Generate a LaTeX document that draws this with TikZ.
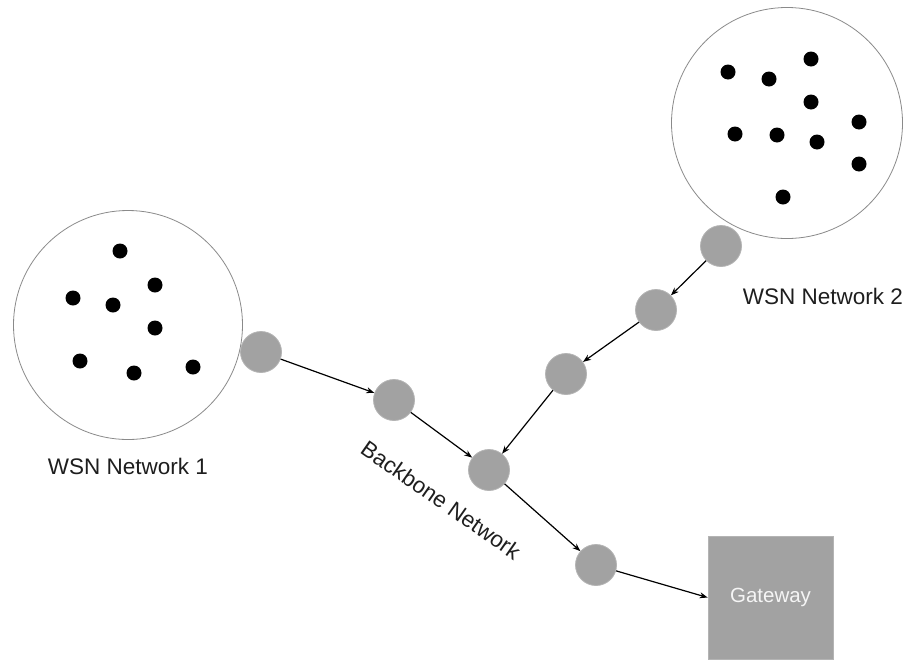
\documentclass[tikz,border=0pt]{standalone}
\usepackage{fontspec}
\setmainfont{Liberation Sans}
\usetikzlibrary{arrows.meta}
\definecolor{nodegray}{HTML}{A2A2A2}
\definecolor{nodeedge}{HTML}{B4B4B4}
\definecolor{ringgray}{HTML}{8A8A8A}
\definecolor{labelgray}{HTML}{1E1E1E}
\tikzset{
  relay/.style={circle, fill=nodegray, draw=nodeedge, line width=0.8pt, minimum size=41pt, inner sep=0pt},
  sensor/.style={circle, fill=black, minimum size=15pt, inner sep=0pt},
  cluster/.style={circle, draw=ringgray, line width=0.8pt, inner sep=0pt},
  link/.style={-{Stealth[length=8pt,width=6pt]}, line width=1.2pt, black},
  lbl/.style={font=\fontsize{22.5}{26}\selectfont, text=labelgray, inner sep=0pt},
  gatebox/.style={rectangle, fill=nodegray, draw=nodeedge, line width=0.8pt, minimum width=125pt, minimum height=123pt, inner sep=0pt, text=white!92!gray, font=\fontsize{20.5}{24}\selectfont}
}
\begin{document}
\begin{tikzpicture}[x=1pt,y=-1pt]
\useasboundingbox[fill=white] (0,0) rectangle (909,659);
% clusters
\node[cluster, minimum size=229pt] (c1) at (128,325) {};
\node[cluster, minimum size=231pt] (c2) at (787,123) {};
% sensors network 1
\node[sensor] (a1) at (120,251) {};
\node[sensor] (a2) at (155,285) {};
\node[sensor] (a3) at (73,298) {};
\node[sensor] (a4) at (113,305) {};
\node[sensor] (a5) at (155,328) {};
\node[sensor] (a6) at (80,361) {};
\node[sensor] (a7) at (134,373) {};
\node[sensor] (a8) at (193,367) {};
% sensors network 2
\node[sensor] (b1) at (811,59) {};
\node[sensor] (b2) at (728,72) {};
\node[sensor] (b3) at (769,79) {};
\node[sensor] (b4) at (811,102) {};
\node[sensor] (b5) at (859,122) {};
\node[sensor] (b6) at (735,134) {};
\node[sensor] (b7) at (777,135) {};
\node[sensor] (b8) at (817,142) {};
\node[sensor] (b9) at (859,164) {};
\node[sensor] (b10) at (783,197) {};
% relays
\node[relay] (g1) at (261,352) {};
\node[relay] (g2) at (394,400) {};
\node[relay] (g3) at (489,470) {};
\node[relay] (g4) at (721,246) {};
\node[relay] (g5) at (656,310) {};
\node[relay] (g6) at (566,374) {};
\node[relay] (g7) at (596,565) {};
% gateway
\node[gatebox] (gw) at (770.5,597.5) {Gateway};
% labels
\node[lbl] (l1) at (128,466) {WSN Network 1};
\node[lbl] (l2) at (823,296) {WSN Network 2};
\node[lbl, rotate=-35] (l3) at (441,500) {Backbone Network};
% links
\draw[link] (g1) -- (g2);
\draw[link] (g2) -- (g3);
\draw[link] (g4) -- (g5);
\draw[link] (g5) -- (g6);
\draw[link] (g6) -- (g3);
\draw[link] (g3) -- (g7);
\draw[link] (g7) -- (gw.west);
\end{tikzpicture}
\end{document}
